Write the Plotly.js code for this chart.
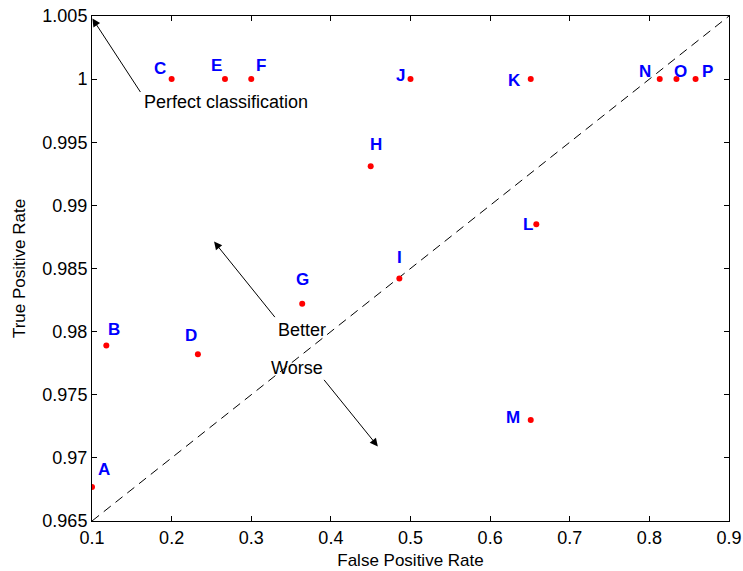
<!DOCTYPE html>
<html>
<head>
<meta charset="utf-8">
<script src="https://cdn.plot.ly/plotly-3.0.1.min.js"></script>
<style>html,body{margin:0;padding:0;background:#fff;}#chart{width:743px;height:571px;}</style>
</head>
<body>
<div id="chart"></div>
<script>
var names = ['A','B','C','D','E','F','G','H','I','J','K','L','M','N','O','P'];
var fpr = [0.100,0.118,0.200,0.233,0.267,0.300,0.364,0.450,0.486,0.500,0.651,0.658,0.651,0.813,0.834,0.858];
var tpr = [0.9677,0.9789,1.0000,0.9782,1.0000,1.0000,0.9822,0.9931,0.9842,1.0000,1.0000,0.9885,0.9730,1.0000,1.0000,1.0000];
var diagX = [0.1, 0.9];
var diagY = [0.965, 1.005];
var xTicks = [0.1,0.2,0.3,0.4,0.5,0.6,0.7,0.8,0.9];
var yTicks = [0.965,0.97,0.975,0.98,0.985,0.99,0.995,1,1.005];
var yTickText = ['0.965','0.97','0.975','0.98','0.985','0.99','0.995','1','1.005'];

// label pixel offsets (style only)
var lblShift = {
  A:[12,17], B:[8,16], C:[-12,11], D:[-7,19], E:[-8,14], F:[10,14], G:[0,24], H:[5,22],
  I:[0,21], J:[-10,4], K:[-16,-1], L:[-8,0], M:[-18,3], N:[-15,8], O:[4,8], P:[12,8]
};

var font = 'Liberation Sans, Arial, Helvetica, sans-serif';
var annotations = names.map(function(n,i){
  return {x:fpr[i], y:tpr[i], xref:'x', yref:'y', text:n, showarrow:false,
    xshift:lblShift[n][0], yshift:lblShift[n][1],
    font:{family:font, size:17, color:'#0000ff', weight:'bold'}};
});

function arrowAnn(tipX, tipY, ax, ay){
  return {x:tipX, y:tipY, xref:'x', yref:'y', ax:ax, ay:ay, axref:'pixel', ayref:'pixel',
    text:'', showarrow:true, arrowhead:2, arrowsize:1.6, arrowwidth:1, arrowcolor:'#000', standoff:0};
}
annotations.push(arrowAnn(0.1005, 1.0048, 49, 75));
annotations.push(arrowAnn(0.2533, 0.98713, 62, 77));
annotations.push(arrowAnn(0.459, 0.97091, -55, -68));

var txt = function(x,y,t){return {x:x,y:y,xref:'x',yref:'y',text:t,showarrow:false,
  font:{family:font,size:18,color:'#000'}};};
annotations.push(txt(0.2685, 0.99822, 'Perfect classification'));
annotations.push(txt(0.3635, 0.98013, 'Better'));
annotations.push(txt(0.3575, 0.97713, 'Worse'));

var traces = [
  {x:diagX, y:diagY, mode:'lines', line:{color:'#000', width:1, dash:'9px,6px'}, hoverinfo:'skip'},
  {x:fpr, y:tpr, mode:'markers', marker:{color:'#ff0000', size:6}, text:names}
];

var axisCommon = {showline:true, linecolor:'#000', linewidth:1, mirror:'ticks', ticks:'inside',
  ticklen:5, tickcolor:'#000', showgrid:false, zeroline:false,
  tickfont:{family:font, size:18, color:'#000'}};

var layout = {
  width:743, height:571,
  margin:{l:92, r:14, t:16, b:50},
  paper_bgcolor:'#fff', plot_bgcolor:'#fff',
  showlegend:false,
  xaxis:Object.assign({}, axisCommon, {range:[0.1,0.9], tickvals:xTicks,
    title:{text:'False Positive Rate', font:{family:font,size:17,color:'#000'}, standoff:7}}),
  yaxis:Object.assign({}, axisCommon, {range:[0.965,1.005], tickvals:yTicks, ticktext:yTickText,
    title:{text:'True Positive Rate', font:{family:font,size:17,color:'#000'}, standoff:12}}),
  annotations:annotations
};

Plotly.newPlot('chart', traces, layout, {displayModeBar:false, staticPlot:true});
</script>
</body>
</html>
